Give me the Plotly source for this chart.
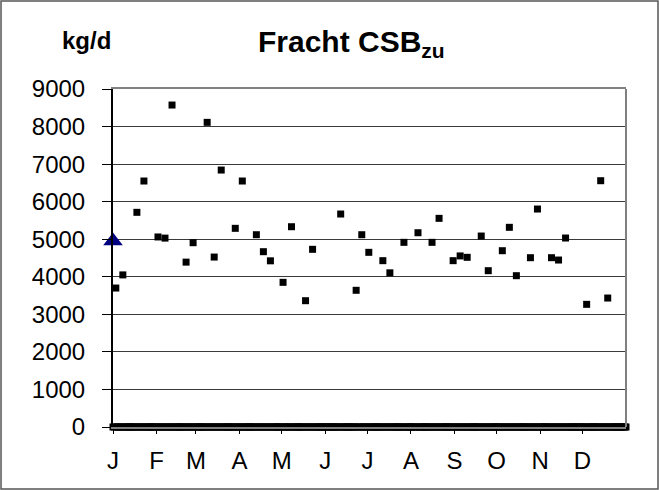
import plotly.graph_objects as go

# measured days (day of year) and loads in kg/d
days = [2, 7, 17, 22, 32, 37, 42, 52, 57, 67, 72, 77, 87, 92, 102, 107, 112,
        121, 127, 137, 142, 162, 173, 177, 182, 192, 197, 207, 217, 227, 232,
        242, 247, 252, 262, 267, 277, 282, 287, 297, 302, 312, 317, 322, 337,
        347, 352]
loads = [3700, 4050, 5716, 6550, 5060, 5030, 8573, 4390, 4907, 8112, 4525,
         6842, 5290, 6550, 5120, 4668, 4425, 3852, 5333, 3363, 4731, 5671,
         3640, 5120, 4651, 4429, 4105, 4917, 5173, 4917, 5556, 4429, 4555,
         4518, 5085, 4162, 4694, 5317, 4029, 4508, 5804, 4508, 4446, 5032,
         3266, 6558, 3434]

# days without a measurement are plotted as 0
zero_days = [d for d in range(366) if d not in days]
zero_vals = [0] * len(zero_days)

# single reference value at the start of the year
ref_day = [0]
ref_val = [4950]

month_starts = [0, 31, 59, 90, 120, 151, 181, 212, 243, 273, 304, 334]
month_labels = ["J", "F", "M", "A", "M", "J", "J", "A", "S", "O", "N", "D"]
y_ticks = [0, 1000, 2000, 3000, 4000, 5000, 6000, 7000, 8000, 9000]

FONT = "Liberation Sans, Arial, sans-serif"

fig = go.Figure()

fig.add_trace(go.Scatter(
    x=zero_days, y=zero_vals, mode="markers",
    marker=dict(symbol="square", size=7, color="black"),
    cliponaxis=False, showlegend=False
))

fig.add_trace(go.Scatter(
    x=days, y=loads, mode="markers",
    marker=dict(symbol="square", size=7, color="black"),
    cliponaxis=False, showlegend=False
))

fig.add_trace(go.Scatter(
    x=ref_day, y=ref_val, mode="markers",
    marker=dict(symbol="triangle-up", size=17, color="#000080"),
    cliponaxis=False, showlegend=False
))

fig.update_layout(
    width=659, height=490,
    margin=dict(l=113, r=33, t=89, b=63),
    paper_bgcolor="white",
    plot_bgcolor="white",
    font=dict(family=FONT, color="black"),
    xaxis=dict(
        range=[0, 365],
        tickvals=month_starts, ticktext=month_labels,
        ticks="outside", ticklen=5, tickcolor="black",
        tickfont=dict(size=24),
        ticklabelstandoff=6,
        showgrid=False, zeroline=False,
        showline=True, mirror=True, linecolor="#808080", linewidth=2,
    ),
    yaxis=dict(
        range=[0, 9000],
        tickvals=y_ticks,
        ticks="outside", ticklen=9, tickcolor="black",
        tickfont=dict(size=24),
        ticklabelstandoff=12,
        showgrid=True, gridcolor="#3a3a3a", gridwidth=1,
        zeroline=False,
        showline=True, linecolor="black", linewidth=2,
    ),
    shapes=[
        # right edge of the plot area
        dict(type="line", xref="paper", yref="paper", x0=1, x1=1, y0=0, y1=1,
             line=dict(color="#808080", width=2)),
        # outer chart frame
        dict(type="rect", xref="paper", yref="paper",
             x0=-0.2183, x1=1.0624, y0=-0.1834, y1=1.2604,
             line=dict(color="#555555", width=1.5)),
    ],
    annotations=[
        dict(text="<b>Fracht CSB<sub>zu</sub></b>", xref="paper", yref="paper",
             x=0.464, y=1.195, showarrow=False, font=dict(size=30)),
        dict(text="<b>kg/d</b>", xref="paper", yref="paper",
             x=-0.103, y=1.19, showarrow=False, font=dict(size=24)),
    ],
)

fig.write_html("out.html", config={"displayModeBar": False},
               post_script="document.body.style.margin='0';")
